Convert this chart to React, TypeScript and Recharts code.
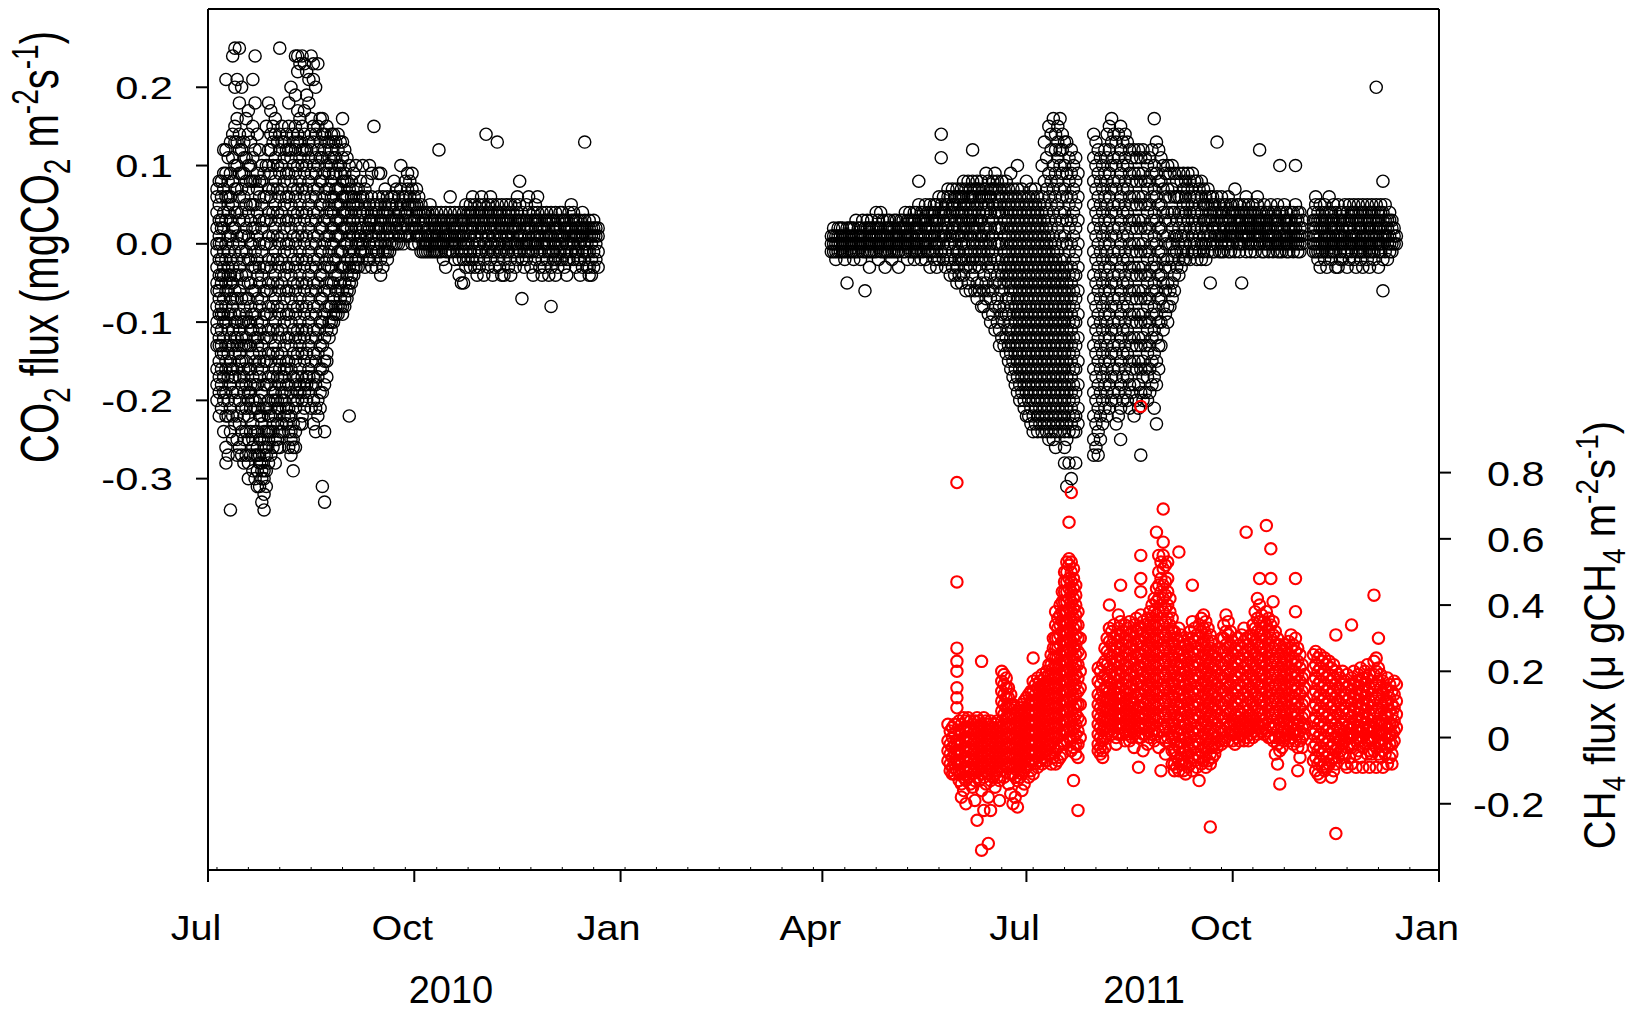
import { ScatterChart, Scatter, XAxis, YAxis, ReferenceLine } from 'recharts';

// days counted from 1 Jul 2010, flux values in hundredths
// each row: [day, value, value, ...]
const co2Jul2010: number[][] = [
  [4, -20, -16, -13, -10, -8, -5, -3, 0, 2, 4, 6, 7, -18, -11, -6, -1],
  [5, -22, -19, -15, -12, -9, -6, -4, -2, 1, 3, 5, 8, -17, -13, -7, 0],
  [6, -21, -18, -16, -13, -11, -8, -5, -2, 0, 3, 6, 8, -14, -9, -4, 2],
  [7, -24, -20, -17, -14, -12, -9, -7, -4, -1, 2, 4, 7, 9, 12, -19, -10, -3],
  [8, -28, -26, -22, -19, -16, -13, -10, -8, -5, -2, 0, 3, 6, 9, 12, 21, -15, -6],
  [9, -22, -20, -17, -14, -11, -9, -6, -4, -1, 1, 4, 6, 8, 11, -13, -3, 5, -27],
  [10, -34, -24, -21, -18, -15, -12, -9, -7, -4, -2, 1, 3, 6, 9, 13, -16, -5],
  [11, -25, -22, -19, -16, -13, -11, -8, -5, -3, 0, 2, 5, 8, 11, 14, 24, -17, -7],
  [12, -23, -20, -17, -14, -12, -9, -6, -4, -1, 2, 4, 7, 10, 13, 15, 20, 25, -10],
  [13, -27, -25, -22, -19, -16, -13, -10, -7, -4, -2, 1, 4, 7, 10, 13, 16, 21, -12],
  [14, -26, -23, -20, -17, -14, -11, -9, -6, -3, 0, 3, 6, 9, 12, 14, 18, -15, 25],
  [15, -24, -21, -18, -15, -13, -10, -7, -4, -1, 1, 4, 7, 9, 12, 20, -27, -12],
  [16, -25, -22, -19, -16, -13, -10, -8, -5, -2, 1, 3, 6, 9, 11, 13, -17, -28],
  [17, -27, -24, -21, -18, -15, -12, -9, -7, -4, -1, 2, 5, 8, 11, 16, -13],
  [18, -30, -28, -25, -22, -19, -16, -13, -10, -7, -5, -2, 1, 4, 7, 10, 14, 17, -20],
  [19, -27, -24, -21, -19, -16, -13, -10, -8, -5, -2, 0, 3, 5, 8, 10, -18, -11, 13],
  [20, -29, -26, -23, -20, -17, -14, -11, -9, -6, -3, 0, 2, 5, 8, 11, 15, 21, -25],
  [21, -30, -27, -24, -21, -18, -15, -12, -9, -6, -3, -1, 2, 5, 8, 12, 18, 24, -20],
  [22, -29, -27, -24, -21, -18, -16, -13, -10, -7, -4, -2, 1, 4, 7, 9, -26, -12, -31, 14],
  [23, -31, -28, -25, -22, -20, -17, -14, -11, -8, -5, -3, 0, 3, 6, 8, -27, -15, 12],
  [24, -33, -30, -28, -25, -22, -19, -16, -13, -10, -7, -4, -1, 2, 5, 8, 10, -29, -23],
  [25, -34, -32, -29, -27, -24, -21, -18, -15, -12, -9, -6, -3, 0, 3, 6, 9, -30, -26],
  [26, -31, -29, -26, -24, -21, -18, -15, -12, -9, -6, -3, 0, 3, 6, 10, 15, -27],
  [27, -28, -25, -22, -20, -17, -14, -11, -8, -5, -2, 1, 4, 7, 10, 12, 18, -24],
  [28, -27, -24, -21, -18, -15, -12, -9, -6, -3, 0, 3, 6, 9, 12, 14, 17, -22],
  [29, -26, -23, -20, -17, -14, -11, -8, -5, -2, 1, 4, 7, 10, 13, 15, -24, -19],
  [30, -25, -22, -19, -16, -13, -10, -7, -4, -1, 2, 5, 8, 11, 14, 16, -28, -20],
  [31, -26, -23, -20, -17, -14, -11, -8, -5, -2, 1, 4, 7, 10, 13, -21, -25],
  [32, -24, -21, -18, -15, -12, -9, -6, -3, 0, 3, 6, 9, 12, 14, 25, -16, -26],
  [33, -23, -20, -17, -14, -11, -8, -5, -2, 1, 4, 7, 10, 13, 15, -19, -24],
  [34, -22, -19, -16, -13, -10, -7, -4, -1, 2, 5, 8, 11, 13, -17, -20],
  [35, -21, -18, -15, -12, -9, -6, -3, 0, 3, 6, 9, 12, 14, -16, -23],
  [36, -26, -24, -21, -18, -15, -12, -9, -6, -3, 0, 3, 6, 9, 12, 15, 18, -22],
  [37, -25, -22, -19, -16, -13, -10, -7, -4, -1, 2, 5, 8, 11, 12, -24, -27, 20],
  [38, -26, -23, -20, -17, -14, -11, -8, -5, -2, 1, 4, 7, 10, 13, 14, -25, -29],
  [39, -21, -18, -15, -12, -9, -6, -3, 0, 3, 6, 9, 12, 15, 19, 24, -24, -26],
  [40, -20, -17, -14, -11, -8, -5, -2, 1, 4, 7, 10, 13, 14, 17, 22, 24, -19],
  [41, -19, -16, -13, -10, -7, -4, -1, 2, 5, 8, 11, 13, 16, -18, -12, 23, -23],
  [42, -20, -17, -14, -11, -8, -5, -2, 1, 4, 7, 10, 12, 15, -22, -23, 24],
  [43, -21, -18, -15, -12, -9, -6, -3, 0, 3, 6, 9, 12, 14, 17, -19, 23],
  [44, -20, -17, -14, -11, -8, -5, -2, 1, 4, 7, 10, 12, -18, 19, 22],
  [45, -19, -16, -13, -10, -7, -4, -1, 2, 5, 8, 11, 13, -17, 18, 21],
  [46, -18, -15, -12, -9, -6, -3, 0, 3, 6, 9, 12, 14, -21, 16, 24],
  [47, -20, -17, -14, -11, -8, -5, -2, 1, 4, 7, 10, 13, -23, 15, 23, 21],
  [48, -21, -18, -15, -12, -9, -6, -3, 0, 3, 6, 9, 11, -24, 14, 20],
  [49, -20, -17, -14, -11, -8, -5, -2, 1, 4, 7, 10, 12, -22, 15, 23],
  [50, -19, -16, -13, -10, -7, -4, -1, 2, 5, 8, 11, 13, -21, 16],
  [51, -19, -16, -13, -10, -7, -4, -1, 2, 5, 8, 11, 14, -31, 16],
  [52, -18, -15, -12, -9, -6, -3, 0, 3, 6, 9, 12, -33, 14, -24],
  [53, -17, -14, -11, -8, -5, -2, 1, 4, 7, 10, 13, -15, 15],
  [54, -10, -8, -6, -3, -1, 1, 3, 5, 7, 9, 11, 13, -12],
  [55, -10, -8, -5, -3, 0, 2, 4, 6, 8, 10, 12, 14, -11],
  [56, -9, -7, -5, -2, 0, 2, 4, 6, 9, 11, 13, 14, -10],
  [57, -9, -6, -4, -2, 1, 3, 5, 7, 9, 11, 13, -8],
  [58, -8, -6, -4, -1, 1, 3, 5, 7, 10, 12, 14, -9],
  [59, -8, -5, -3, -1, 1, 3, 5, 7, 9, 10, 13, -7],
  [60, -8, -6, -3, -1, 2, 4, 6, 8, 11, 13, -9, 16],
  [61, -7, -5, -3, 0, 2, 4, 6, 8, 9, 12, -8],
  [62, -6, -4, -2, 0, 2, 4, 6, 8, 11, -7],
  [63, -5, -3, -1, 1, 3, 5, 7, 10, -22, -6],
  [64, -4, -2, 0, 2, 4, 6, 8, -5],
  [65, -3, -1, 1, 3, 5, 6, 9, -4],
  [66, -2, 0, 2, 4, 5, 7, 10, -3],
  [67, -2, 0, 1, 3, 5, 7, -3],
  [68, -1, 1, 2, 4, 6, 8, 0],
];

const co2Autumn2010: number[][] = [
  [69, 6, 4, 2, 0, -1, 10], [70, 7, 5, 3, 1, -1, -3], [71, 6, 4, 2, 1, -2, 8],
  [72, 5, 3, 2, 0, -2, 10], [73, 6, 4, 3, 1, -1, -3, 9], [74, 5, 3, 1, 0, -2, 15],
  [75, 5, 4, 2, 0, -1, -3], [76, 6, 4, 2, 1, -1, 9], [77, 5, 3, 2, 0, -2, -4, 9],
  [78, 6, 4, 3, 1, -1, -3], [79, 5, 4, 2, 0, -1, 7], [80, 6, 4, 2, 1, -1, -2],
  [81, 5, 3, 2, 0, -1], [82, 6, 5, 3, 1, 0], [83, 6, 4, 3, 2, 0, 8],
  [84, 7, 5, 3, 2, 0], [85, 6, 4, 3, 1, 0], [86, 7, 5, 4, 2, 1, 10],
  [87, 6, 5, 3, 2, 0], [88, 8, 6, 4, 3, 1], [89, 7, 5, 4, 2, 1, 9],
  [90, 8, 6, 5, 3, 1], [91, 7, 5, 3, 2, 0, 9], [92, 6, 5, 3, 2, 0],
  [93, 7, 5, 4, 2, 1], [94, 6, 4, 3, 1, 0], [95, 5, 4, 2, 1, -1],
  [96, 4, 3, 2, 0, -1], [97, 4, 3, 1, 0, -1], [98, 4, 2, 1, 0, -1],
  [99, 3, 2, 1, 0, -1, 5], [100, 4, 3, 1, 0, -1], [101, 3, 2, 1, 0, -1],
  [102, 4, 2, 1, 0, -1], [103, 3, 2, 1, 0, -1, 12], [104, 4, 3, 2, 0, -1],
  [105, 3, 2, 1, 0, -2], [106, 4, 2, 1, -1, -3], [107, 3, 2, 1, 0, -1],
  [108, 4, 3, 1, 0, -1, 6], [109, 3, 2, 1, 0, -1], [110, 4, 2, 1, 0, -2],
  [111, 3, 2, 1, 0, -1], [112, 4, 3, 1, 0, -2, -4], [113, 3, 2, 1, -1, -5],
  [114, 4, 3, 1, 0, -2, -5], [115, 5, 3, 2, 0, -1, -3], [116, 4, 3, 1, 0, -2],
  [117, 5, 4, 2, 1, -1, -3], [118, 6, 4, 3, 2, 0, -2], [119, 5, 3, 2, 1, -1, -3],
  [120, 4, 3, 1, 0, -2, -4], [121, 5, 4, 2, 0, -1, -3], [122, 6, 4, 3, 2, 1, -1],
  [123, 5, 3, 2, 0, -2, -4], [124, 4, 3, 1, 0, -1, 14], [125, 5, 4, 2, 1, -1, -3],
  [126, 6, 4, 3, 2, 0, -2], [127, 5, 3, 1, 0, -1, -4], [128, 4, 3, 2, 1, -1, -3],
  [129, 5, 4, 2, 0, -2, 13], [130, 4, 3, 1, 0, -1, -3], [131, 5, 3, 2, 1, -1, -4],
  [132, 4, 3, 2, 0, -2, -4], [133, 3, 2, 1, 0, -1, 5], [134, 4, 3, 1, 0, -1, -3],
  [135, 5, 3, 2, 0, -2, -4], [136, 4, 2, 1, 0, -1], [137, 5, 3, 2, 0, -1, -3],
  [138, 4, 3, 1, 0, -2, 6], [139, 5, 3, 2, 1, -1, 8], [140, 4, 3, 1, 0, -2, -7],
  [141, 3, 2, 1, 0, -1, -3], [142, 5, 3, 2, 0, -2], [143, 4, 2, 1, 0, -1, 6],
  [144, 3, 2, 0, -1, -3], [145, 4, 3, 1, 0, -1, -4], [146, 5, 3, 2, 0, -2],
  [147, 4, 3, 1, 0, -1, 6], [148, 3, 2, 1, -1, -3], [149, 4, 2, 1, 0, -2, -4],
  [150, 3, 2, 0, -1, -3], [151, 4, 3, 1, 0, -2], [152, 3, 2, 1, 0, -1, -4],
  [153, 4, 3, 1, -1, -3, -8], [154, 3, 2, 0, -1, -2], [155, 4, 2, 1, 0, -2, -4],
  [156, 3, 2, 1, -1, -3], [157, 2, 1, 0, -1, -2, 4], [158, 4, 3, 1, 0, -2],
  [159, 3, 2, 1, -1, -3], [160, 3, 2, 0, -1, -2, -4], [161, 4, 2, 1, 0, -2],
  [162, 3, 2, 1, 0, -1, 5], [163, 4, 3, 1, 0, -2], [164, 3, 2, 1, -1, -3],
  [165, 2, 1, 0, -1, -2, 3], [166, 3, 2, 1, 0, -2, -4], [167, 4, 2, 1, -1, -3],
  [168, 3, 2, 0, -1, -2, 13], [169, 2, 1, 0, -1, -3], [170, 3, 2, 1, -1, -3, -4],
  [171, 2, 1, 0, -2, -4], [172, 3, 2, 1, -1, -3], [173, 2, 1, 0, -2], [174, 2, 1, -1, -3],
];

const co2Spring2011: number[][] = [
  [278, 1, 0, -1], [279, 2, 0, -1, 1], [280, 1, 0, -1, -2], [281, 2, 1, 0, -1],
  [282, 1, 0, -1, 2], [283, 2, 1, 0, -1], [284, 1, 0, -1, -2], [285, 2, 1, 0, -1, -5],
  [286, 1, 0, -1, 2], [287, 2, 1, 0, -1], [288, 2, 1, 0, -1, -2], [289, 3, 1, 0, -1],
  [290, 2, 1, 0, -1], [291, 2, 1, 0, -2], [292, 3, 1, 0, -1], [293, 2, 1, 0, -1, -6],
  [294, 3, 2, 0, -1], [295, 2, 1, 0, -1, -3], [296, 3, 2, 1, 0, -1], [297, 2, 1, 0, -1],
  [298, 4, 2, 1, 0, -1], [299, 3, 2, 1, 0, -2], [300, 2, 1, 0, -1, 4], [301, 3, 1, 0, -1],
  [302, 2, 1, 0, -1, -3], [303, 3, 2, 1, 0, -1], [304, 3, 2, 0, -1], [305, 2, 1, 0, -1, -2],
  [306, 3, 2, 1, 0, -1], [307, 3, 1, 0, -1], [308, 2, 1, 0, -1, -3], [309, 3, 2, 1, 0],
  [310, 3, 2, 1, 0, -1], [311, 4, 2, 1, 0, -1], [312, 3, 2, 1, 0, -2], [313, 4, 3, 1, 0, -1],
  [314, 3, 2, 1, 0, -1], [315, 4, 3, 2, 0, -1, -2], [316, 4, 2, 1, 0, -1],
  [317, 5, 3, 2, 1, 0, -1, 8], [318, 4, 3, 2, 0, -1, -2], [319, 4, 3, 1, 0, -1],
  [320, 5, 3, 2, 1, 0, -2], [321, 4, 3, 2, 0, -1], [322, 5, 4, 2, 1, 0, -1, -3],
  [323, 4, 3, 2, 1, -1], [324, 5, 4, 3, 1, 0, -2], [325, 5, 3, 2, 0, -1, -3],
  [326, 6, 4, 3, 1, 0, -2], [327, 5, 4, 2, 1, -1, 14, 11], [328, 6, 4, 3, 1, 0, -2],
  [329, 5, 4, 2, 1, -1, -3], [330, 6, 5, 3, 2, 0, -2, 7], [331, 6, 4, 3, 1, 0, -2, -4],
  [332, 7, 5, 4, 2, 1, -1, -3], [333, 6, 5, 3, 2, 0, -2, -4], [334, 7, 6, 4, 3, 1, -1, -3, -5],
  [335, 6, 5, 4, 2, 1, -1, -2, -4], [336, 7, 6, 4, 3, 1, 0, -2, -5], [337, 8, 6, 5, 3, 2, 0, -2, -4],
  [338, 7, 5, 4, 2, 1, -1, -3, -6], [339, 8, 6, 5, 3, 2, 0, -2, -5], [340, 7, 6, 4, 3, 1, -1, -3, -6],
  [341, 8, 6, 5, 3, 2, 0, -2, -4, 12], [342, 7, 6, 4, 2, 1, -1, -3, -6], [343, 8, 7, 5, 3, 2, 0, -2, -5, -7],
  [344, 7, 6, 4, 3, 1, -1, -3, -6], [345, 8, 6, 5, 3, 1, 0, -2, -5, -8], [346, 7, 6, 4, 2, 1, -1, -4, -6, -8],
  [347, 9, 7, 5, 4, 2, 0, -2, -5, -7], [348, 8, 6, 5, 3, 1, -1, -3, -6, -9], [349, 7, 6, 4, 2, 0, -2, -4, -7, -10],
  [350, 8, 7, 5, 3, 1, -1, -3, -6, -9], [351, 9, 7, 5, 4, 2, 0, -2, -5, -8, -11],
  [352, 8, 6, 4, 2, 0, -2, -4, -7, -10], [353, 7, 5, 4, 2, 0, -3, -5, -8, -11, -13],
  [354, 8, 6, 4, 2, 0, -2, -4, -6, -9, -12], [355, 7, 5, 3, 1, -1, -3, -5, -8, -10, -13],
  [356, 8, 6, 4, 2, 0, -2, -4, -7, -9, -12, -14],
];

const co2Summer2011: number[][] = [
  [357, 7, 5, 3, 1, -1, -3, -5, -7, -9, -11, -13, -15],
  [358, 6, 4, 2, 0, -2, -4, -6, -8, -10, -12, -14, -16, 9],
  [359, 7, 5, 3, 1, -1, -3, -5, -7, -9, -11, -13, -15, -17],
  [360, 6, 4, 2, 0, -2, -4, -6, -8, -10, -12, -14, -16, -18],
  [361, 7, 5, 3, 1, -1, -3, -5, -7, -9, -11, -13, -15, -17, -19, 10],
  [362, 6, 4, 2, 0, -2, -4, -6, -8, -10, -12, -14, -16, -18, -20],
  [363, 7, 5, 3, 1, -1, -3, -5, -7, -9, -11, -13, -15, -17, -19],
  [364, 6, 4, 2, 0, -2, -4, -6, -8, -10, -12, -14, -16, -18, -20, -21],
  [365, 8, 5, 3, 1, -1, -3, -5, -7, -9, -11, -13, -15, -17, -19, -22],
  [366, 6, 4, 2, 0, -2, -4, -6, -8, -10, -12, -14, -16, -18, -20, -22],
  [367, 7, 5, 3, 1, -1, -3, -5, -7, -9, -11, -13, -15, -17, -19, -21, -23],
  [368, 6, 4, 2, 0, -2, -4, -6, -8, -10, -12, -14, -16, -18, -20, -22, -24],
  [369, 7, 5, 3, 1, -1, -3, -5, -7, -9, -11, -13, -15, -17, -19, -21, -23],
  [370, 6, 4, 2, 0, -2, -4, -6, -8, -10, -12, -14, -16, -18, -20, -22, -24],
  [371, 5, 3, 1, -1, -3, -5, -7, -9, -11, -13, -15, -17, -19, -21, -23],
  [372, 6, 4, 2, 0, -2, -4, -6, -8, -10, -12, -14, -16, -18, -20, -22, -24, 10],
  [373, 8, 5, 3, 1, -1, -3, -5, -7, -9, -11, -13, -15, -17, -19, -21, -23, 13],
  [374, 7, 4, 2, 0, -2, -4, -6, -8, -10, -12, -14, -16, -18, -20, -22, -24, 11],
  [375, 9, 6, 3, 1, -1, -3, -5, -7, -9, -11, -13, -15, -17, -19, -21, -23, 15, -25],
  [376, 8, 5, 2, 0, -2, -4, -6, -8, -10, -12, -14, -16, -18, -20, -22, -24, 12, 14],
  [377, 10, 7, 4, 1, -1, -3, -5, -7, -9, -11, -13, -15, -17, -19, -21, -23, 16, -25],
  [378, 9, 6, 3, 0, -2, -4, -6, -8, -10, -12, -14, -16, -18, -20, -22, -24, 14, -26, 12],
  [379, 11, 8, 5, 2, -1, -3, -5, -7, -9, -11, -13, -15, -17, -19, -21, -23, 13, 15],
  [380, 10, 7, 4, 1, -2, -4, -6, -8, -10, -12, -14, -16, -18, -20, -22, -24, 16, 12],
  [381, 12, 9, 6, 3, 0, -3, -5, -7, -9, -11, -13, -15, -17, -19, -21, -23, 14],
  [382, 10, 7, 4, 1, -2, -4, -6, -8, -10, -12, -14, -16, -18, -20, -22, -24, -26, -28, 13],
  [383, 13, 9, 6, 3, 0, -3, -5, -7, -9, -11, -13, -15, -17, -19, -21, -23, -25, -31],
  [384, 11, 8, 5, 2, -1, -4, -6, -8, -10, -12, -14, -16, -18, -20, -22, -24, -28],
  [385, 12, 9, 6, 3, 0, -3, -5, -7, -9, -11, -13, -15, -17, -19, -21, -23, -30],
  [386, 10, 7, 4, 1, -2, -4, -6, -8, -10, -12, -14, -16, -18, -20, -22, -24],
  [387, 11, 8, 5, 2, -1, -4, -7, -10, -13, -16, -19, -22, -24, -28],
  [388, 9, 6, 3, 0, -3, -6, -9, -12, -15, -18, -21, -23],
  [395, 14, 11, 8, 5, 2, -1, -4, -7, -10, -13, -16, -19, -22, -25, -27],
  [396, 13, 10, 7, 4, 1, -2, -5, -8, -11, -14, -17, -20, -23, -26],
  [397, 12, 9, 6, 3, 0, -3, -6, -9, -12, -15, -18, -21, -24, -27],
  [398, 11, 8, 5, 2, -1, -4, -7, -10, -13, -16, -19, -22, -25],
  [399, 10, 7, 4, 1, -2, -5, -8, -11, -14, -17, -20, -23],
  [400, 12, 9, 6, 3, 0, -3, -6, -9, -12, -15, -18, -21],
  [401, 14, 11, 8, 5, 2, -1, -4, -7, -10, -13, -16, -19, -22],
  [402, 15, 12, 9, 6, 3, 0, -3, -6, -9, -12, -15, -18, -21],
  [403, 16, 13, 10, 7, 4, 1, -2, -5, -8, -11, -14, -17, -20],
  [404, 14, 11, 8, 5, 2, -1, -4, -7, -10, -13, -16, -19],
  [405, 13, 10, 7, 4, 1, -2, -5, -8, -11, -14, -17, -20, -23],
  [406, 14, 11, 8, 5, 2, -1, -4, -7, -10, -13, -16, -19, -22],
  [407, 15, 12, 9, 6, 3, 0, -3, -6, -9, -12, -15, -18, -21, -25],
  [408, 13, 10, 7, 4, 1, -2, -5, -8, -11, -14, -17, -20],
  [409, 14, 11, 8, 5, 2, -1, -4, -7, -10, -13, -16, -19],
  [410, 13, 10, 7, 4, 1, -2, -5, -8, -11, -14, -17, -20],
  [411, 12, 9, 6, 3, 0, -3, -6, -9, -12, -15, -18, -21],
  [412, 11, 8, 5, 2, -1, -4, -7, -10, -13, -16, -19],
  [413, 12, 9, 6, 3, 0, -3, -6, -9, -12, -15, -18, -22],
  [414, 11, 8, 5, 2, -1, -4, -7, -10, -13, -16, -20],
  [415, 12, 9, 6, 3, 0, -3, -6, -9, -12, -15, -18, -21],
  [416, 11, 8, 5, 2, -1, -4, -7, -10, -13, -16, -19, -27],
  [417, 12, 9, 6, 3, 0, -3, -6, -9, -12, -15, -17, -20],
  [418, 11, 8, 5, 2, -1, -4, -7, -10, -13, -16, -19],
  [419, 10, 7, 4, 1, -2, -5, -8, -11, -14, -17, -20],
  [420, 11, 8, 5, 2, -1, -4, -7, -10, -13, -16, -19],
  [421, 12, 9, 6, 3, 0, -3, -6, -9, -12, -15, -18],
  [422, 16, 10, 7, 4, 1, -2, -5, -8, -11, -14, -17, -21],
  [423, 13, 9, 6, 3, 0, -3, -6, -9, -12, -15, -18, -23],
  [424, 12, 8, 5, 2, -1, -4, -7, -10, -13, -16],
  [425, 11, 8, 5, 2, -1, -4, -7, -10, -13],
  [426, 10, 7, 4, 1, -2, -5, -8, -11],
  [427, 9, 6, 3, 0, -3, -6, -9],
  [428, 10, 7, 4, 1, -2, -5, -8, -10],
  [429, 9, 6, 3, 0, -3, -6, -8],
  [430, 10, 7, 4, 2, 0, -2, -5, -7],
  [431, 9, 6, 4, 1, -1, -4, -6],
  [432, 8, 6, 3, 1, -1, -3],
  [433, 9, 6, 4, 2, 0, -2, -4],
  [434, 8, 6, 4, 1, -1, -3],
  [435, 9, 7, 5, 3, 1, -1, -2],
  [436, 8, 6, 4, 2, 0, -2],
  [437, 9, 7, 5, 3, 1, -1],
  [438, 8, 6, 4, 2, 0, -2],
  [439, 9, 7, 5, 3, 1, -1],
  [440, 8, 6, 4, 2, 0, -1],
];

const co2Autumn2011: number[][] = [
  [441, 8, 6, 4, 2, 0, -2], [442, 7, 5, 3, 1, -1], [443, 8, 6, 4, 2, 0, -2],
  [444, 7, 5, 3, 1, 0, -1], [445, 6, 5, 3, 2, 0, -2], [446, 7, 5, 3, 1, -1],
  [447, 6, 4, 3, 1, 0, -5], [448, 6, 5, 3, 2, 0, -1], [449, 5, 4, 2, 1, -1],
  [450, 6, 4, 3, 1, 0, 13], [451, 5, 4, 2, 1, -1], [452, 6, 4, 3, 1, 0, -1],
  [453, 5, 4, 2, 1, -1], [454, 5, 3, 2, 1, 0], [455, 6, 4, 3, 1, 0, -1],
  [456, 5, 3, 2, 1, -1], [457, 5, 4, 2, 1, 0], [458, 4, 3, 2, 1, -1, 7],
  [459, 5, 4, 3, 1, 0], [460, 5, 3, 2, 0, -1], [461, 4, 3, 2, 1, 0, -5],
  [462, 5, 4, 2, 1, 0], [463, 4, 3, 2, 1, -1, 6], [464, 5, 3, 2, 1, 0],
  [465, 4, 3, 2, 0, -1], [466, 5, 4, 2, 1, 0], [467, 4, 3, 2, 1, -1],
  [468, 5, 3, 2, 1, 0, 6], [469, 4, 3, 2, 1, 0, 12], [470, 4, 3, 2, 1, -1],
  [471, 5, 3, 2, 0, -1], [472, 4, 3, 2, 1, 0], [473, 4, 2, 1, 0, -1],
  [474, 5, 3, 2, 1, 0], [475, 4, 3, 1, 0, -1], [476, 4, 3, 2, 1, 0],
  [477, 5, 3, 2, 0, -1], [478, 4, 3, 1, 0, -1, 10], [479, 4, 2, 1, 0, -1],
  [480, 5, 3, 2, 1, 0], [481, 4, 3, 1, 0, -1], [482, 3, 2, 1, 0, -1],
  [483, 4, 3, 2, 1, 0], [484, 4, 2, 1, 0, -1], [485, 5, 3, 2, 1, 0, 10],
  [486, 4, 3, 1, 0, -1], [487, 4, 2, 1, 0, -1], [488, 3, 2, 1, 0],
  [493, 4, 3, 2, 1, 0, -1], [494, 5, 3, 2, 1, 0, -1, 6], [495, 4, 3, 1, 0, -1, -2],
  [496, 5, 3, 2, 1, 0, -1, -3], [497, 4, 3, 2, 0, -1], [498, 5, 3, 2, 1, 0, -2],
  [499, 4, 3, 1, 0, -1, -3], [500, 6, 4, 2, 1, 0, -1], [501, 4, 3, 2, 0, -1, -2],
  [502, 5, 3, 2, 1, 0, -1], [503, 4, 2, 1, 0, -1, -3], [504, 5, 3, 2, 1, 0, -3],
  [505, 4, 3, 1, 0, -1, -2], [506, 4, 3, 2, 1, 0, -2], [507, 5, 3, 1, 0, -1],
  [508, 4, 3, 2, 0, -1, -3], [509, 5, 3, 2, 1, 0, -2], [510, 4, 3, 1, 0, -1],
  [511, 5, 4, 2, 1, 0, -2], [512, 4, 3, 1, 0, -1, -3], [513, 5, 3, 2, 1, 0, -1],
  [514, 4, 3, 2, 0, -1, -2], [515, 5, 4, 2, 1, 0, -1, -3], [516, 4, 3, 1, 0, -1],
  [517, 5, 3, 2, 1, 0, -2], [518, 4, 3, 2, 0, -1, -3], [519, 5, 4, 2, 1, 0, -1],
  [520, 4, 3, 1, 0, -1, -2], [521, 5, 3, 2, 1, 0, 20], [522, 4, 3, 2, 0, -1, -3],
  [523, 5, 4, 2, 1, 0, -1], [524, 4, 3, 1, 0, -2, 8, -6], [525, 5, 3, 2, 1, -1],
  [526, 3, 2, 1, 0, -2], [527, 4, 3, 1, 0, -1], [528, 3, 2, 0, -1], [529, 2, 1, 0], [530, 1, 0],
];

const ch4Summer2011: number[][] = [
  [330, -1, -4, -7, 4],
  [331, 2, -2, -5, -8, -10],
  [332, 3, 0, -3, -6, -9, -11],
  [333, 4, 1, -2, -5, -8, -11],
  [334, 9, 12, 15, 20, 23, 27, 47, 77, -1, -4, -7, -10],
  [335, 5, 2, -1, -4, -7, -10, -13],
  [336, 4, 1, -2, -5, -8, -11, -14, -18],
  [337, 6, 3, 0, -3, -6, -9, -12, -16],
  [338, 5, 2, -1, -4, -7, -10, -13, -20],
  [339, 6, 3, 0, -3, -6, -9, -12],
  [340, 5, 2, -1, -4, -7, -10, -14],
  [341, 4, 1, -2, -5, -8, -11, -15],
  [342, 5, 2, -1, -4, -7, -10, -13, -19],
  [343, 6, 3, 0, -3, -6, -9, -12, -25],
  [344, 5, 2, -1, -4, -7, -10, -13],
  [345, 4, 1, -2, -5, -8, -11, -16, 23, -34],
  [346, 6, 3, 0, -3, -6, -9, -12, -22],
  [347, 5, 2, -1, -4, -7, -10, -14],
  [348, 4, 1, -2, -5, -8, -11, -18, -32],
  [349, 5, 2, -1, -4, -7, -10, -13, -22],
  [350, 3, 0, -3, -6, -9, -12],
  [351, 4, 1, -2, -5, -8, -11, -15],
  [352, 5, 2, -1, -4, -7, -10, -12],
  [353, 3, 0, -3, -6, -9, -13, -19],
  [354, 20, 17, 14, 11, 8, 5, 2, -1, -4, -7, -10],
  [355, 19, 16, 13, 10, 7, 4, 1, -2, -5, -8, -12],
  [356, 18, 15, 12, 9, 6, 3, 0, -3, -6, -9],
  [357, 15, 12, 9, 6, 3, 0, -3, -6, -9, -14],
  [358, 13, 10, 7, 4, 1, -2, -5, -8, -11, -17],
  [359, 10, 7, 4, 1, -2, -5, -8, -11, -20],
  [360, 9, 6, 3, 0, -3, -6, -9, -12, -18],
  [361, 8, 5, 2, -1, -4, -7, -10, -13, -21],
  [362, 9, 6, 3, 0, -3, -6, -9, -12],
  [363, 10, 7, 4, 1, -2, -5, -8, -11, -16],
  [364, 11, 8, 5, 2, -1, -4, -7, -10, -14],
  [365, 12, 9, 6, 3, 0, -3, -6, -9],
  [366, 13, 10, 7, 4, 1, -2, -5, -8, -12],
  [367, 14, 11, 8, 5, 2, -1, -4, -7, -10],
  [368, 17, 14, 11, 8, 5, 2, -1, -4, -7, 24, -11],
  [369, 16, 13, 10, 7, 4, 1, -2, -5, -8],
  [370, 18, 15, 12, 9, 6, 3, 0, -3, -6, -9],
  [371, 17, 14, 11, 8, 5, 2, -1, -4, -7],
  [372, 19, 16, 13, 10, 7, 4, 1, -2, -5, -8],
  [373, 18, 15, 12, 9, 6, 3, 0, -3, -6],
  [374, 20, 17, 14, 11, 8, 5, 2, -1, -4, -7],
  [375, 22, 19, 16, 13, 10, 7, 4, 1, -2, -5],
  [376, 25, 22, 19, 16, 13, 10, 7, 4, 1, -2, -5, -8],
  [377, 30, 27, 24, 21, 18, 15, 12, 9, 6, 3, 0, -3, -6],
  [378, 38, 34, 30, 27, 24, 21, 18, 15, 12, 9, 6, 3, 0, -4, -8],
  [379, 36, 33, 30, 27, 24, 21, 18, 15, 12, 9, 6, 3, 0, -3, -7],
  [380, 40, 37, 34, 31, 28, 25, 22, 19, 16, 13, 10, 7, 4, 1, -2, -6],
  [381, 44, 41, 38, 35, 32, 29, 26, 23, 20, 17, 14, 11, 8, 5, 2, -1, -5],
  [382, 50, 47, 44, 41, 38, 35, 32, 29, 26, 23, 20, 17, 14, 11, 8, 5, 2, -2],
  [383, 53, 50, 47, 44, 41, 38, 35, 32, 29, 26, 23, 20, 17, 14, 11, 8, 5, 2, -1],
  [384, 54, 52, 48, 45, 42, 39, 36, 33, 30, 27, 24, 21, 18, 15, 12, 9, 6, 3, 0, 65],
  [385, 53, 50, 47, 44, 41, 38, 35, 32, 29, 26, 23, 20, 17, 14, 11, 8, 5, 2, -1, -4, 74],
  [386, 51, 48, 45, 42, 39, 36, 33, 30, 27, 24, 21, 18, 15, 12, 9, 6, 3, 0, -3, -13],
  [387, 46, 43, 40, 37, 34, 31, 28, 25, 22, 19, 16, 13, 10, 7, 4, 1, -2, -5],
  [388, 38, 34, 30, 26, 22, 18, 14, 10, 6, 2, -2, -6, -22],
  [389, 30, 25, 20, 15, 10, 5, 0],
];

const ch4Autumn2011: number[][] = [
  [397, 21, 17, 13, 10, 7, 4, 1, -2, -4], [398, 20, 16, 12, 9, 6, 3, 0, -3, -5],
  [399, 22, 18, 14, 11, 8, 5, 2, -1, -4, -6], [400, 27, 23, 19, 15, 12, 9, 6, 3, 0, -3],
  [401, 30, 26, 22, 18, 15, 12, 9, 6, 3, 1], [402, 33, 29, 25, 21, 17, 14, 11, 8, 5, 2, 40],
  [403, 32, 28, 24, 20, 16, 13, 10, 7, 4, 1], [404, 34, 30, 26, 22, 18, 14, 11, 8, 5, 2],
  [405, 31, 27, 23, 19, 15, 12, 9, 6, 3, 0, -2], [406, 33, 29, 25, 21, 17, 13, 10, 7, 4, 1, 37],
  [407, 35, 31, 27, 23, 19, 15, 12, 9, 6, 3, 46], [408, 32, 28, 24, 20, 16, 12, 9, 6, 3, 1],
  [409, 34, 30, 26, 22, 18, 14, 11, 8, 5, 2, -1], [410, 33, 29, 25, 21, 17, 13, 10, 7, 4, 1],
  [411, 35, 31, 27, 23, 19, 15, 11, 8, 5, 2, -1], [412, 32, 28, 24, 20, 16, 12, 9, 6, 3, 0],
  [413, 34, 30, 26, 22, 18, 14, 10, 7, 4, 1, -3], [414, 36, 32, 28, 24, 20, 16, 12, 8, 5, 2],
  [415, 33, 29, 25, 21, 17, 13, 9, 6, 3, 0, -9], [416, 37, 33, 29, 25, 21, 17, 13, 9, 6, 3, 0, 55, 48, 44, 100],
  [417, 35, 31, 27, 23, 19, 15, 11, 7, 4, 1, -4], [418, 34, 30, 26, 22, 18, 14, 10, 7, 4, 1],
  [419, 36, 32, 28, 24, 20, 16, 12, 8, 5, 2, -2], [420, 38, 34, 30, 26, 22, 18, 14, 10, 6, 3, 0],
  [421, 40, 36, 32, 28, 24, 20, 16, 12, 8, 4, 1], [422, 42, 38, 34, 30, 26, 22, 18, 14, 10, 6, 2, -1],
  [423, 45, 41, 37, 33, 29, 25, 21, 17, 13, 9, 5, 1, 62],
  [424, 50, 46, 42, 38, 34, 30, 26, 22, 18, 14, 10, 6, 2, -3, 55],
  [425, 53, 48, 44, 40, 36, 32, 28, 24, 20, 16, 12, 8, 4, 0, -10],
  [426, 55, 51, 46, 42, 38, 34, 30, 26, 22, 18, 14, 10, 6, 2, 69, 59],
  [427, 52, 47, 43, 39, 35, 31, 27, 23, 19, 15, 11, 7, 3, -1, -5],
  [428, 48, 44, 40, 36, 32, 28, 24, 20, 16, 12, 8, 4, 0, 53],
  [429, 42, 38, 34, 30, 26, 22, 18, 14, 10, 6, 2, -2],
  [430, 36, 32, 28, 24, 20, 16, 12, 8, 4, 0, -4, -8],
  [431, 32, 28, 24, 20, 16, 12, 8, 4, 0, -4, -8, -10],
  [432, 30, 26, 22, 18, 14, 10, 6, 2, -2, -6, -9],
  [433, 33, 29, 25, 21, 17, 13, 9, 5, 1, -3, -7, -10, 56],
  [434, 31, 27, 23, 19, 15, 11, 7, 3, -1, -5, -8], [435, 29, 25, 21, 17, 13, 9, 5, 1, -3, -7, -10],
  [436, 28, 24, 20, 16, 12, 8, 4, 0, -4, -8, -11], [437, 30, 26, 22, 18, 14, 10, 6, 2, -2, -6, -9],
  [438, 32, 28, 24, 20, 16, 12, 8, 4, 0, -4, -8], [439, 35, 30, 26, 22, 18, 14, 10, 6, 2, -2, -6, -10, 46],
  [440, 33, 29, 25, 21, 17, 13, 9, 5, 1, -3, -7], [441, 31, 27, 23, 19, 15, 11, 7, 3, -1, -5, -9],
  [442, 34, 30, 26, 22, 18, 14, 10, 6, 2, -2, -6, -13], [443, 36, 32, 28, 24, 20, 16, 12, 8, 4, 0, -4, -8],
  [444, 37, 33, 29, 25, 21, 17, 13, 9, 5, 1, -3, -7], [445, 35, 31, 27, 23, 19, 15, 11, 7, 3, -1, -5, -9],
  [446, 33, 29, 25, 21, 17, 13, 9, 5, 1, -3, -7], [447, 31, 27, 23, 19, 15, 11, 7, 3, -1, -5, -8, -27],
  [448, 29, 25, 21, 17, 13, 9, 5, 1, -3, -6], [449, 26, 22, 18, 14, 10, 6, 2, -2, -5],
  [450, 24, 20, 16, 12, 8, 4, 0, -3], [451, 27, 23, 19, 15, 11, 7, 3, -1],
  [452, 30, 26, 22, 18, 14, 10, 6, 2, -2], [453, 34, 30, 26, 22, 18, 14, 10, 6, 2, -1],
  [454, 37, 32, 28, 24, 20, 16, 12, 8, 4, 0], [455, 35, 31, 27, 23, 19, 15, 11, 7, 3, -1],
  [456, 32, 28, 24, 20, 16, 12, 8, 4, 1], [457, 29, 25, 21, 17, 13, 9, 5, 2, -1],
  [458, 27, 23, 19, 15, 11, 7, 4, 1, -2], [459, 30, 26, 22, 18, 14, 10, 6, 3, 0],
  [460, 28, 24, 20, 16, 12, 8, 5, 2, -1], [461, 31, 27, 23, 19, 15, 11, 7, 4, 1],
  [462, 33, 29, 25, 21, 17, 13, 9, 5, 2, -1], [463, 30, 26, 22, 18, 14, 10, 6, 3, 0, 62],
  [464, 28, 24, 20, 16, 12, 8, 5, 2, -1], [465, 31, 27, 23, 19, 15, 11, 7, 4, 1],
  [466, 34, 30, 26, 22, 18, 14, 10, 6, 3, 0], [467, 38, 33, 29, 25, 21, 17, 13, 9, 5, 2],
  [468, 36, 32, 28, 24, 20, 16, 12, 8, 4, 1, 42], [469, 40, 35, 31, 27, 23, 19, 15, 11, 7, 3, 48],
  [470, 37, 33, 29, 25, 21, 17, 13, 9, 5, 2], [471, 35, 31, 27, 23, 19, 15, 11, 7, 4, 1],
  [472, 38, 34, 30, 26, 22, 18, 14, 10, 6, 2, 64], [473, 36, 32, 28, 24, 20, 16, 12, 8, 4, 0],
  [474, 34, 30, 26, 22, 18, 14, 10, 6, 3, 0, 57, 48], [475, 35, 31, 27, 23, 19, 15, 11, 7, 3, -1, 41],
  [476, 32, 28, 24, 20, 16, 12, 8, 4, 0, -5], [477, 30, 26, 22, 18, 14, 10, 6, 2, -2, -8],
  [478, 28, 24, 20, 16, 12, 8, 4, 0, -4, -14], [479, 26, 22, 18, 14, 10, 6, 3, 0, -3],
  [480, 28, 24, 20, 16, 12, 8, 5, 2, -1], [481, 27, 23, 19, 15, 11, 7, 4, 1],
  [482, 29, 25, 21, 17, 13, 9, 5, 2, -1], [483, 31, 27, 23, 19, 15, 11, 7, 3, 0],
  [484, 28, 24, 20, 16, 12, 8, 4, 1, -2], [485, 30, 26, 22, 18, 14, 10, 6, 2, -1, 48, 38],
  [486, 27, 23, 19, 15, 11, 7, 4, 1, -3, -10], [487, 25, 21, 17, 13, 9, 5, 2, -1, -6],
  [488, 22, 18, 14, 10, 6, 3, 0, -3], [489, 19, 15, 11, 7, 4, 1],
];

const ch4Winter2011: number[][] = [
  [493, 25, 21, 17, 13, 9, 5, 1, -3, -7], [494, 26, 22, 18, 14, 10, 6, 2, -2, -6, -10],
  [495, 24, 20, 16, 12, 8, 4, 0, -4, -8, -11], [496, 25, 21, 17, 13, 9, 5, 1, -3, -7, -12],
  [497, 23, 19, 15, 11, 7, 3, -1, -5, -9], [498, 24, 20, 16, 12, 8, 4, 0, -4, -8, -10],
  [499, 22, 18, 14, 10, 6, 2, -2, -6, -9], [500, 23, 19, 15, 11, 7, 3, -1, -5, -8],
  [501, 21, 17, 13, 9, 5, 1, -3, -7, -12], [502, 22, 18, 14, 10, 6, 2, -2, -6, -10],
  [503, 31, 20, 16, 12, 8, 4, 0, -4, -8, -29], [504, 19, 15, 11, 7, 3, 0, -3, -6],
  [505, 18, 14, 10, 6, 2, -1, -4], [506, 20, 16, 12, 8, 4, 1, -2, -5],
  [507, 17, 13, 9, 5, 2, -1, -5, -8], [508, 19, 15, 11, 7, 3, 0, -3, -9],
  [509, 16, 12, 8, 4, 1, -2, -6], [510, 18, 14, 10, 6, 3, 0, -3, -8, 34],
  [511, 20, 16, 12, 8, 4, 1, -2], [512, 17, 13, 9, 5, 2, -1, -5, -9],
  [513, 19, 15, 11, 7, 3, 0, -4], [514, 21, 17, 13, 9, 5, 2, -1, -6],
  [515, 18, 14, 10, 6, 3, 0, -3, -9], [516, 20, 16, 12, 8, 4, 1, -2],
  [517, 22, 18, 14, 10, 6, 2, -1, -5], [518, 19, 15, 11, 7, 3, 0, -4, -9],
  [519, 17, 13, 9, 5, 2, -1, -5], [520, 23, 19, 15, 11, 7, 3, 0, -4, 43],
  [521, 24, 20, 16, 12, 8, 4, 1, -3, -9], [522, 21, 17, 13, 9, 5, 2, -1, -5, 30],
  [523, 19, 15, 11, 7, 4, 1, -2, -6], [524, 17, 13, 9, 5, 2, -1, -4, -9],
  [525, 15, 11, 7, 4, 1, -2, -5], [526, 18, 14, 10, 6, 3, 0, -3, -8],
  [527, 16, 12, 8, 4, 1, -2, -6], [528, 14, 10, 7, 4, 1, -2, -5, -8],
  [529, 17, 13, 9, 5, 2, -1], [530, 16, 11, 7, 3],
];

const majorDays = [0, 92, 184, 274, 365, 457, 549];
const monthLabels = ['Jul', 'Oct', 'Jan', 'Apr', 'Jul', 'Oct', 'Jan'];
const yearLabels = ['2010', '2011'];
const co2Ticks = [-0.3, -0.2, -0.1, 0, 0.1, 0.2];
const ch4Ticks = [-0.2, 0, 0.2, 0.4, 0.6, 0.8];

// biweekly minor ticks on the date axis
const minorDays = Array.from({ length: 39 }, (_, i) => 4 + i * 14);

const toPoints = (rows: number[][]) =>
  rows.flatMap(([day, ...vals]) => vals.map((v) => ({ day, v: v / 100 })));

const co2Points = [co2Jul2010, co2Autumn2010, co2Spring2011, co2Summer2011, co2Autumn2011].flatMap(toPoints);
const ch4Points = [ch4Summer2011, ch4Autumn2011, ch4Winter2011].flatMap(toPoints);

const FONT = "'Liberation Sans', Arial, Helvetica, sans-serif";

const BlackRing = (p: any) => (
  <circle cx={p.cx} cy={p.cy} r={6.1} fill="none" stroke="#000" strokeWidth={1.4} />
);
const RedRing = (p: any) => (
  <circle cx={p.cx} cy={p.cy} r={5.7} fill="none" stroke="#ff0000" strokeWidth={2.1} />
);

const DateTick = ({ x, y, payload }: any) => {
  const i = majorDays.indexOf(payload.value);
  if (i < 0) {
    return <line x1={x} x2={x} y1={y} y2={y - 3} stroke="#000" strokeWidth={1} />;
  }
  return (
    <g>
      <line x1={x} x2={x} y1={y} y2={y + 12} stroke="#000" strokeWidth={2} />
      <text
        transform={`translate(${x - 12} ${y + 70}) scale(1.1 1)`}
        textAnchor="middle"
        fontSize={36}
        fontFamily={FONT}
        fill="#000"
      >
        {monthLabels[i]}
      </text>
    </g>
  );
};

const Co2Tick = ({ x, y, payload }: any) => (
  <g>
    <line x1={x} x2={x - 12} y1={y} y2={y} stroke="#000" strokeWidth={2} />
    <text
      transform={`translate(${x - 35} ${y}) scale(1.3 1)`}
      dy="0.36em"
      textAnchor="end"
      fontSize={32}
      fontFamily={FONT}
      fill="#000"
    >
      {payload.value.toFixed(1)}
    </text>
  </g>
);

const Ch4Tick = ({ x, y, payload }: any) => {
  const v = payload.value;
  const label = v === 0 ? '0' : v.toFixed(1);
  return (
    <g>
      <line x1={x} x2={x + 12} y1={y} y2={y} stroke="#000" strokeWidth={2} />
      <text
        transform={`translate(${x + 48 - (v < 0 ? 14 : 0)} ${y}) scale(1.15 1)`}
        dy="0.36em"
        textAnchor="start"
        fontSize={36}
        fontFamily={FONT}
        fill="#000"
      >
        {label}
      </text>
    </g>
  );
};

const sub = { fontSize: 28 };

const Overlay = () => (
  <svg
    width={1645}
    height={1010}
    style={{ position: 'absolute', left: 0, top: 0, pointerEvents: 'none' }}
    fontFamily={FONT}
  >
    <text transform="translate(58 247) scale(1.35 1) rotate(-90)" textAnchor="middle" fontSize={40} fill="#000">
      CO<tspan dy={9} {...sub}>2</tspan>
      <tspan dy={-9}> flux (mgCO</tspan>
      <tspan dy={9} {...sub}>2</tspan>
      <tspan dy={-9}> m</tspan>
      <tspan dy={-15} {...sub}>-2</tspan>
      <tspan dy={15}>s</tspan>
      <tspan dy={-15} {...sub}>-1</tspan>
      <tspan dy={15}>)</tspan>
    </text>
    <text transform="translate(1615 635) scale(1.12 1) rotate(-90)" textAnchor="middle" fontSize={40} fill="#000">
      CH<tspan dy={9} {...sub}>4</tspan>
      <tspan dy={-9}> flux (μ gCH</tspan>
      <tspan dy={9} {...sub}>4</tspan>
      <tspan dy={-9}> m</tspan>
      <tspan dy={-15} {...sub}>-2</tspan>
      <tspan dy={15}>s</tspan>
      <tspan dy={-15} {...sub}>-1</tspan>
      <tspan dy={15}>)</tspan>
    </text>
    <text x={451} y={1003} textAnchor="middle" fontSize={38} fill="#000">{yearLabels[0]}</text>
    <text x={1144} y={1003} textAnchor="middle" fontSize={38} fill="#000">{yearLabels[1]}</text>
  </svg>
);

const App = () => {
  return (
    <div style={{ position: 'absolute', left: 0, top: 0, width: 1645, height: 1010, background: '#fff' }}>
      <ScatterChart width={1645} height={1010} margin={{ top: 9, right: 106, bottom: 40, left: 108 }}>
        <XAxis
          type="number"
          dataKey="day"
          domain={[0, 549]}
          ticks={[...majorDays, ...minorDays].sort((a, b) => a - b)}
          interval={0}
          tick={<DateTick />}
          tickLine={false}
          tickSize={0}
          tickMargin={0}
          height={100}
          axisLine={{ stroke: '#000', strokeWidth: 2 }}
        />
        <YAxis
          yAxisId="co2"
          type="number"
          dataKey="v"
          domain={[-0.8, 0.3]}
          ticks={co2Ticks}
          interval={0}
          tick={<Co2Tick />}
          tickLine={false}
          tickSize={0}
          tickMargin={0}
          width={100}
          axisLine={{ stroke: '#000', strokeWidth: 2 }}
        />
        <YAxis
          yAxisId="ch4"
          orientation="right"
          type="number"
          dataKey="v"
          domain={[-0.4, 2.2]}
          ticks={ch4Ticks}
          interval={0}
          tick={<Ch4Tick />}
          tickLine={false}
          tickSize={0}
          tickMargin={0}
          width={100}
          axisLine={{ stroke: '#000', strokeWidth: 2 }}
        />
        <ReferenceLine yAxisId="co2" y={0.3} stroke="#000" strokeWidth={2} />
        <Scatter yAxisId="co2" data={co2Points} shape={BlackRing} isAnimationActive={false} />
        <Scatter yAxisId="ch4" data={ch4Points} shape={RedRing} isAnimationActive={false} />
      </ScatterChart>
      <Overlay />
    </div>
  );
};

export default App;
